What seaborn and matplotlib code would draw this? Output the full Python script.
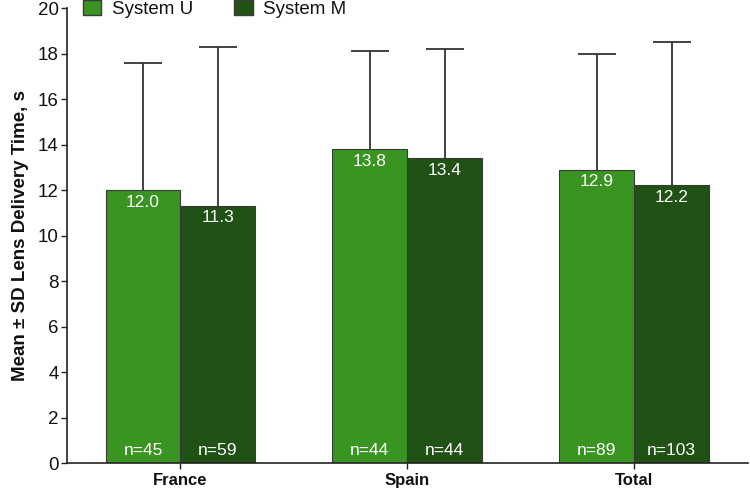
import matplotlib
matplotlib.use("Agg")
import matplotlib.pyplot as plt
import seaborn as sns
import pandas as pd
from matplotlib.patches import Patch

regions = ["France", "Spain", "Total"]
systems = ["System U", "System M"]
mean_u = [12.0, 13.8, 12.9]
mean_m = [11.3, 13.4, 12.2]
sd_u = [5.6, 4.3, 5.1]
sd_m = [7.0, 4.8, 6.3]
n_u = [45, 44, 89]
n_m = [59, 44, 103]
yticks = list(range(0, 21, 2))

colors = {"System U": "#3a9421", "System M": "#1f5214"}

df = pd.DataFrame({
    "region": regions * 2,
    "system": ["System U"] * 3 + ["System M"] * 3,
    "mean": mean_u + mean_m,
    "sd": sd_u + sd_m,
    "n": n_u + n_m,
})

sns.set_theme(style="ticks")
plt.rcParams["font.family"] = ["Liberation Sans", "DejaVu Sans"]
plt.rcParams["text.color"] = "#111111"
plt.rcParams["axes.labelcolor"] = "#111111"
plt.rcParams["xtick.labelcolor"] = "#111111"
plt.rcParams["ytick.labelcolor"] = "#111111"

fig = plt.figure(figsize=(7.5, 4.88), dpi=100)
ax = fig.add_axes([0.0893, 0.0512, 0.9077, 0.9324])

sns.barplot(data=df, x="region", y="mean", hue="system", hue_order=systems,
            order=regions, palette=colors, width=0.66, errorbar=None,
            saturation=1, edgecolor="#3a3a3a", linewidth=0.8, ax=ax, legend=False)

bars = [p for p in ax.patches if p.get_height() > 0]
bars_sorted = sorted(bars, key=lambda p: p.get_x())
vals = []
for i in range(3):
    vals.append((mean_u[i], sd_u[i], n_u[i]))
    vals.append((mean_m[i], sd_m[i], n_m[i]))

for p, (m, s, n) in zip(bars_sorted, vals):
    xc = p.get_x() + p.get_width() / 2
    eb = ax.errorbar(xc, m, yerr=[[0], [s]], fmt="none", ecolor="#333333",
                     elinewidth=1.3, capsize=14, capthick=1.3, zorder=1)
    caps = eb[1]
    if len(caps) >= 1:
        caps[0].set_visible(False)
    ax.text(xc, m - 0.2, f"{m:.1f}", color="white", ha="center", va="top",
            fontsize=12.5, zorder=3)
    ax.text(xc, 0.2, f"n={n}", color="white", ha="center", va="bottom",
            fontsize=12.5, zorder=3)
for p in bars_sorted:
    p.set_zorder(2)

ax.set_ylim(0, 20)
ax.set_yticks(yticks)
ax.set_xlim(-0.5, 2.5)
ax.set_xticks(range(3))
ax.set_xticklabels(regions, fontweight="bold", fontsize=12)
ax.tick_params(axis="y", labelsize=13.5, length=4, width=1, color="#222222", pad=2)
ax.tick_params(axis="x", length=4, width=1, color="#222222", pad=3)
ax.set_xlabel("")
ax.set_ylabel("Mean \u00b1 SD Lens Delivery Time, s", fontweight="bold", fontsize=13.5,
              labelpad=6)
for sp in ["left", "bottom"]:
    ax.spines[sp].set_color("#222222")
    ax.spines[sp].set_linewidth(1.2)
sns.despine(ax=ax)

handles = [Patch(facecolor=colors[s], edgecolor="#3a3a3a", label=s) for s in systems]
ax.legend(handles=handles, loc="upper left", bbox_to_anchor=(0.012, 1.035), ncol=2,
          frameon=False, fontsize=13.5, handlelength=1.0, handleheight=0.85,
          columnspacing=2.2, handletextpad=0.55, borderaxespad=0)

fig.savefig("out.png", dpi=100)
